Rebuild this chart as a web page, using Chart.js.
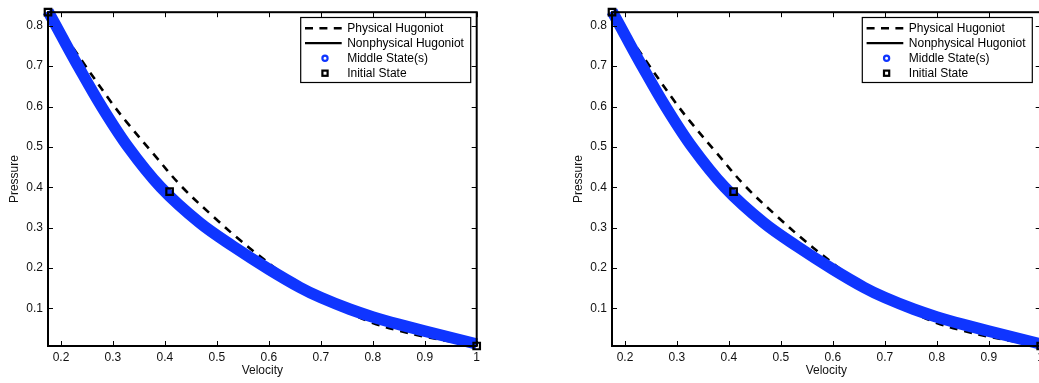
<!DOCTYPE html>
<html><head><meta charset="utf-8">
<script src="https://cdn.jsdelivr.net/npm/chart.js@4.4.0/dist/chart.umd.min.js"></script>
<style>
html,body{margin:0;padding:0;background:#fff;overflow:hidden;width:1039px;height:383px}
.panel{position:absolute;top:0;width:520px;height:383px}
</style></head><body>
<div class="panel" style="left:0px"><canvas id="c1" width="520" height="383"></canvas></div>
<div class="panel" style="left:564px"><canvas id="c2" width="520" height="383"></canvas></div>
<script>
// ---- data ----
const velocityTicks = [0.2, 0.3, 0.4, 0.5, 0.6, 0.7, 0.8, 0.9, 1.0];
const velocityTickLabels = ['0.2', '0.3', '0.4', '0.5', '0.6', '0.7', '0.8', '0.9', '1'];
const pressureTicks = [0.1, 0.2, 0.3, 0.4, 0.5, 0.6, 0.7, 0.8];
const pressureTickLabels = ['0.1', '0.2', '0.3', '0.4', '0.5', '0.6', '0.7', '0.8'];

const physVelocity = [0.175, 0.21, 0.242, 0.297, 0.326, 0.377, 0.432, 0.496, 0.538, 0.583, 0.608, 0.65, 0.70, 0.75, 0.80, 0.85, 0.90, 0.95, 1.0];
const physPressure = [0.8335, 0.77, 0.71, 0.61, 0.562, 0.484, 0.402, 0.324, 0.276, 0.229, 0.204, 0.163, 0.122, 0.092, 0.064, 0.045, 0.030, 0.018, 0.007];

const nonphysVelocity = [0.175, 0.2, 0.233, 0.278, 0.329, 0.392, 0.467, 0.531, 0.6, 0.66, 0.7, 0.756, 0.8, 0.852, 0.9, 1.0];
const nonphysPressure = [0.836, 0.777, 0.70, 0.60, 0.50, 0.40, 0.312, 0.254, 0.197, 0.152, 0.127, 0.098, 0.079, 0.060, 0.044, 0.012];

const middleVelocity = [0.175, 0.2, 0.233, 0.278, 0.329, 0.392, 0.467, 0.531, 0.6, 0.66, 0.7, 0.756, 0.8, 0.852, 0.9, 1.0];
const middlePressure = [0.836, 0.777, 0.70, 0.60, 0.50, 0.40, 0.312, 0.254, 0.197, 0.152, 0.127, 0.098, 0.079, 0.060, 0.044, 0.012];

const initVelocity = [0.175, 0.409, 1.0];
const initPressure = [0.8335, 0.389, 0.007];

const legendLabels = ['Physical Hugoniot', 'Nonphysical Hugoniot', 'Middle State(s)', 'Initial State'];

// ---- styling ----
const FONT = '"Liberation Sans", Arial, Helvetica, sans-serif';
const BLUE = '#0f35ff';

function pts(xs, ys) { return xs.map((x, i) => ({x: x, y: ys[i]})); }
function labelFor(list, labels, v) {
  const i = list.findIndex(t => Math.abs(t - v) < 1e-9);
  return i >= 0 ? labels[i] : '';
}

const matlabFrame = {
  id: 'matlabFrame',
  afterDatasetsDraw(chart, args, opts) {
    const ctx = chart.ctx;
    const a = chart.chartArea;
    const xs = chart.scales.x, ys = chart.scales.y;
    ctx.save();
    ctx.strokeStyle = '#000';
    ctx.lineWidth = 1;
    const tl = 5;
    ctx.beginPath();
    velocityTicks.forEach(v => {
      const px = Math.round(xs.getPixelForValue(v)) + 0.5;
      ctx.moveTo(px, a.bottom); ctx.lineTo(px, a.bottom - tl);
      ctx.moveTo(px, a.top); ctx.lineTo(px, a.top + tl);
    });
    pressureTicks.forEach(p => {
      const py = Math.round(ys.getPixelForValue(p)) + 0.5;
      ctx.moveTo(a.left, py); ctx.lineTo(a.left + tl, py);
      ctx.moveTo(a.right, py); ctx.lineTo(a.right - tl, py);
    });
    ctx.stroke();
    ctx.lineWidth = 2;
    ctx.strokeRect(a.left, a.top, a.right - a.left, a.bottom - a.top);

    // legend
    const bw = 170, bh = 65;
    const bx = a.right - opts.legendGap - bw;
    const by = a.top + 5.3;
    ctx.fillStyle = '#fff';
    ctx.fillRect(bx, by, bw, bh);
    ctx.lineWidth = 1.2;
    ctx.strokeStyle = '#000';
    ctx.strokeRect(bx, by, bw, bh);
    const rows = [by + 10.7, by + 25.7, by + 40.7, by + 55.7];
    const lx0 = bx + 4.3, lx1 = bx + 41, mx = bx + 24.3;
    ctx.lineWidth = 2.4;
    ctx.setLineDash([8, 6.4]);
    ctx.beginPath(); ctx.moveTo(lx0, rows[0]); ctx.lineTo(lx1, rows[0]); ctx.stroke();
    ctx.setLineDash([]);
    ctx.lineWidth = 2.2;
    ctx.beginPath(); ctx.moveTo(lx0, rows[1]); ctx.lineTo(lx1, rows[1]); ctx.stroke();
    ctx.strokeStyle = BLUE; ctx.lineWidth = 2.2;
    ctx.beginPath(); ctx.arc(mx, rows[2], 2.6, 0, Math.PI * 2); ctx.stroke();
    ctx.strokeStyle = '#000'; ctx.lineWidth = 2.2;
    ctx.strokeRect(mx - 2.6, rows[3] - 2.6, 5.2, 5.2);
    ctx.fillStyle = '#000';
    ctx.font = '12px ' + FONT;
    ctx.textAlign = 'left';
    ctx.textBaseline = 'middle';
    legendLabels.forEach((t, i) => ctx.fillText(t, bx + 46.5, rows[i] + 0.5));
    ctx.restore();
  }
};

function makeChart(id, legendGap) {
  return new Chart(document.getElementById(id), {
    type: 'line',
    data: {
      datasets: [
        { label: legendLabels[3], data: pts(initVelocity, initPressure), showLine: false,
          pointStyle: 'rect', pointRadius: 4.6, pointBorderWidth: 2.2, pointBorderColor: '#000',
          pointBackgroundColor: 'rgba(0,0,0,0)', order: 0, clip: false },
        { label: legendLabels[2], data: pts(middleVelocity, middlePressure), borderColor: BLUE,
          borderWidth: 11.5, borderCapStyle: 'butt', pointRadius: 0, tension: 0.35,
          fill: false, order: 1, clip: false },
        { label: legendLabels[1], data: pts(nonphysVelocity, nonphysPressure), borderColor: '#000',
          borderWidth: 2, pointRadius: 0, tension: 0.35, fill: false, order: 2 },
        { label: legendLabels[0], data: pts(physVelocity, physPressure), borderColor: '#000',
          borderWidth: 2.6, borderDash: [8, 6.7], pointRadius: 0, tension: 0.35,
          fill: false, order: 3 }
      ]
    },
    options: {
      responsive: false, animation: false, devicePixelRatio: 1,
      layout: { padding: { top: 8, right: 43.3, left: 0, bottom: 0 } },
      plugins: { legend: { display: false }, tooltip: { enabled: false }, matlabFrame: { legendGap: legendGap } },
      scales: {
        x: {
          type: 'linear', min: 0.175, max: 1.0,
          afterBuildTicks: s => { s.ticks = velocityTicks.map(v => ({ value: v })); },
          afterFit: s => { s.height = 37; },
          ticks: { autoSkip: false, maxRotation: 0, padding: 4, color: '#111',
                   font: { family: FONT, size: 12 },
                   callback: v => labelFor(velocityTicks, velocityTickLabels, v) },
          grid: { display: false, drawTicks: false },
          border: { display: false },
          title: { display: true, text: 'Velocity', color: '#111', font: { family: FONT, size: 12 },
                   padding: { top: 0, bottom: 4.8 } }
        },
        y: {
          type: 'linear', min: 0.007, max: 0.8335,
          afterBuildTicks: s => { s.ticks = pressureTicks.map(v => ({ value: v })); },
          afterFit: s => { s.width = 48; },
          ticks: { autoSkip: false, padding: 5, color: '#111',
                   font: { family: FONT, size: 12 },
                   callback: v => labelFor(pressureTicks, pressureTickLabels, v) },
          grid: { display: false, drawTicks: false },
          border: { display: false },
          title: { display: true, text: 'Pressure', color: '#111', font: { family: FONT, size: 12 },
                   padding: { top: 7.8, bottom: 0 } }
        }
      }
    },
    plugins: [matlabFrame]
  });
}
makeChart('c1', 6);
makeChart('c2', 8.4);
</script>
</body></html>
